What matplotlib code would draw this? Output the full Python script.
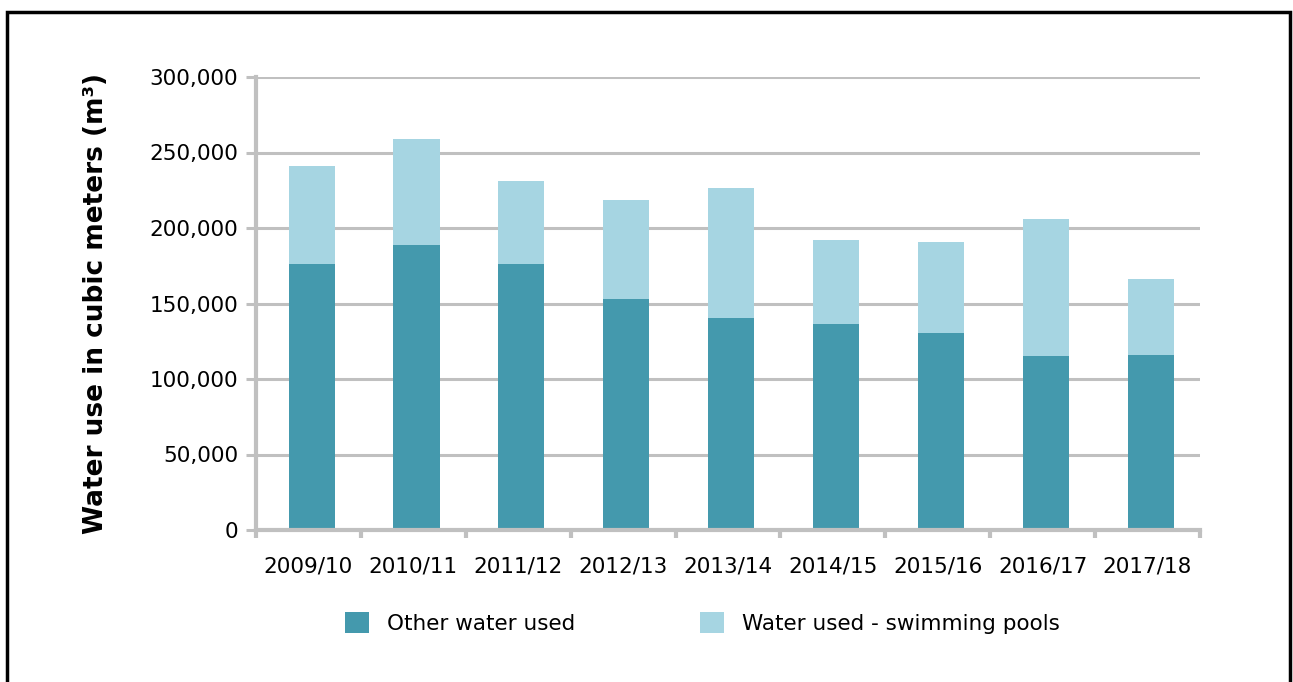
import matplotlib.pyplot as plt
import matplotlib.patches as mpatches
import numpy as np

years = ['2009/10', '2010/11', '2011/12', '2012/13', '2013/14',
         '2014/15', '2015/16', '2016/17', '2017/18']
other_water = [176000, 189000, 176000, 153000, 140500, 136500, 130500, 115200, 116000]
total_water = [241000, 259000, 231000, 218500, 226500, 192000, 190700, 206000, 166200]
pool_water = [t - o for t, o in zip(total_water, other_water)]

dark = '#4499AD'
light = '#A6D5E2'
grey = '#C0C0C0'

plt.rcParams['font.family'] = 'DejaVu Sans'

fig = plt.figure(figsize=(12.93, 6.82), dpi=100)
ax = fig.add_axes([256 / 1293, 152 / 682, 944 / 1293, 453 / 682])

# outer frame (bottom edge runs off the image)
fig.patches.append(mpatches.Rectangle((7 / 1293, -0.05), 1283 / 1293, 0.05 + 670 / 682,
                                      transform=fig.transFigure, fill=False,
                                      edgecolor='black', linewidth=2.5))

x = np.arange(len(years))
ax.bar(x + 0.03, other_water, width=0.44, color=dark, label='Other water used', zorder=3)
ax.bar(x + 0.03, pool_water, width=0.44, bottom=other_water, color=light,
       label='Water used - swimming pools', zorder=3)

ax.set_xlim(-0.5, len(years) - 0.5)
ax.set_ylim(0, 300000)
ax.set_yticks(np.arange(0, 300001, 50000))
ax.set_yticklabels([f'{v:,}' for v in range(0, 300001, 50000)], fontsize=15.5)
ax.set_xticks(x)
ax.set_xticklabels(years, fontsize=15.5)
ax.set_xticks(np.arange(-0.5, len(years)), minor=True)

ax.grid(axis='y', color=grey, linewidth=2.2, zorder=0)
for s in ['top', 'right']:
    ax.spines[s].set_visible(False)
for s in ['left', 'bottom']:
    ax.spines[s].set_color(grey)
    ax.spines[s].set_linewidth(3)
    ax.spines[s].set_zorder(4)

ax.tick_params(axis='y', length=7, width=2.2, color=grey, pad=6)
ax.tick_params(axis='x', which='major', length=0, pad=19)
ax.tick_params(axis='x', which='minor', length=6, width=3, color=grey)

ax.set_ylabel('Water use in cubic meters (m³)', fontsize=19, fontweight='bold')
ax.yaxis.set_label_coords(-0.156, 0.5)

fig.legend(loc='center', bbox_to_anchor=(0.543, 0.0865), ncol=2, frameon=False,
           fontsize=15.5, handlelength=1.15, handleheight=1.15, handletextpad=0.8,
           columnspacing=5.8)

fig.savefig('out.png', dpi=100)
